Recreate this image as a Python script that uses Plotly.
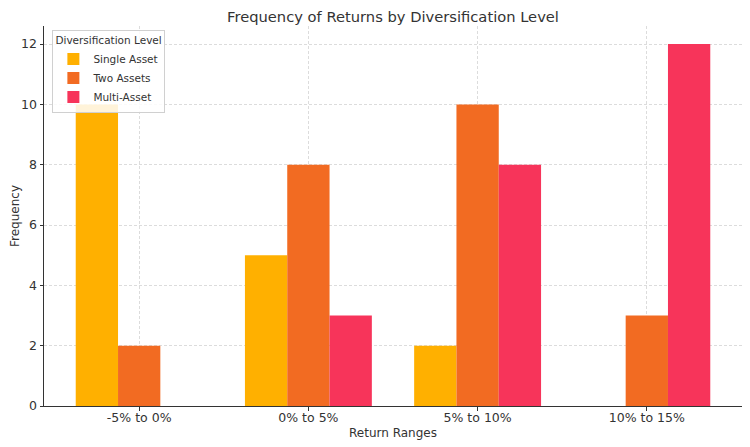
import plotly.graph_objects as go

categories = ["-5% to 0%", "0% to 5%", "5% to 10%", "10% to 15%"]
series_names = ["Single Asset", "Two Assets", "Multi-Asset"]
single_asset = [10, 5, 2, 0]
two_assets = [2, 8, 10, 3]
multi_asset = [0, 3, 8, 12]
colors = ["#FFB000", "#F26B22", "#F7345A"]

series_values = [single_asset, two_assets, multi_asset]
offsets = [-0.25, 0.0, 0.25]
x_idx = list(range(len(categories)))

fig = go.Figure()
for name, vals, col, off in zip(series_names, series_values, colors, offsets):
    fig.add_trace(go.Bar(
        x=[i + off for i in x_idx], y=vals, name=name, width=0.25,
        marker=dict(color=col, line=dict(width=0)),
    ))

font = "DejaVu Sans"
# page body has an 8px margin, so the figure is shifted by (8, 8)
fig.update_layout(
    width=742, height=439,
    margin=dict(l=36, r=8, t=18, b=41, autoexpand=False),
    plot_bgcolor="white", paper_bgcolor="white",
    font=dict(family=font, color="#333333", size=12),
    title=dict(text="Frequency of Returns by Diversification Level", x=0.5, xanchor="center",
               xref="paper", y=0.979, yanchor="middle", font=dict(size=14.7, color="#333333")),
    barmode="overlay",
    showlegend=True,
    legend=dict(
        title=dict(text="Diversification Level", font=dict(size=10.5)),
        x=0.012, y=0.99, xanchor="left", yanchor="top",
        bgcolor="rgba(255,255,255,0.85)", bordercolor="#d0d0d0", borderwidth=1,
        font=dict(size=10.5), itemwidth=30, tracegroupgap=0,
    ),
    xaxis=dict(
        tickmode="array", tickvals=x_idx, ticktext=categories,
        range=[-0.5625, 3.5625], automargin=False,
        showgrid=True, gridcolor="#dcdcdc", griddash="3px,2px", gridwidth=0.8,
        showline=True, linecolor="#333333", linewidth=1,
        ticks="outside", ticklen=3.5, tickcolor="#333333",
        ticklabelstandoff=-4,
        title=dict(text="Return Ranges", font=dict(size=12), standoff=5),
        tickfont=dict(size=12.5), zeroline=False,
    ),
    yaxis=dict(
        range=[0, 12.6], tickvals=[0, 2, 4, 6, 8, 10, 12], automargin=False,
        showgrid=True, gridcolor="#dcdcdc", griddash="3px,2px", gridwidth=0.8,
        showline=True, linecolor="#333333", linewidth=1,
        ticks="outside", ticklen=3.5, tickcolor="#333333",
        title=dict(text="Frequency", font=dict(size=12), standoff=2),
        tickfont=dict(size=12.5), zeroline=False,
    ),
)

fig.write_html("out.html")
